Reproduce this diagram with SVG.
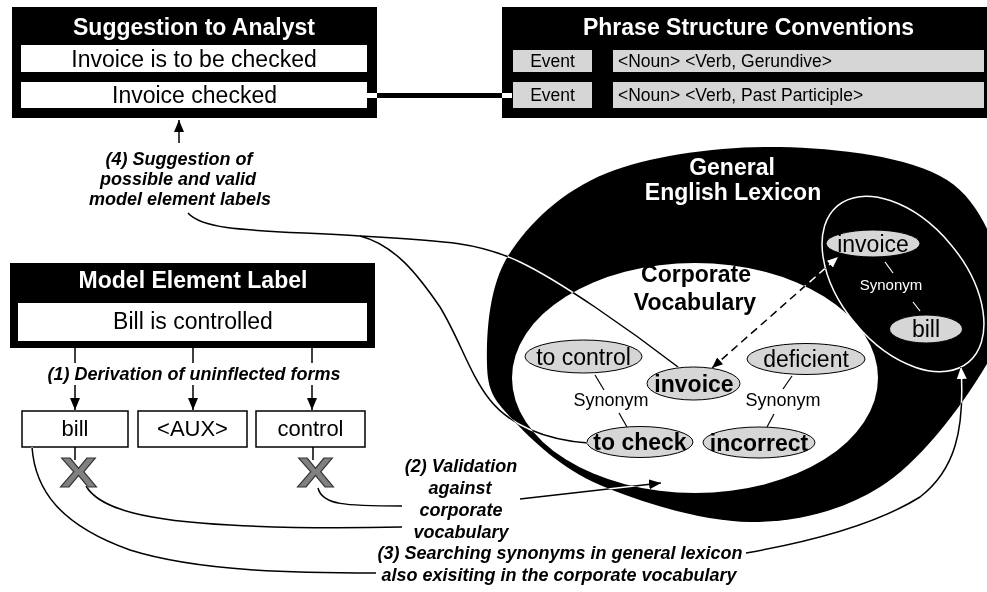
<svg xmlns="http://www.w3.org/2000/svg" width="987" height="592" viewBox="0 0 987 592">
<style>
.t{font-family:"Liberation Sans",Arial,sans-serif;}
.b{font-weight:bold;}
.bi{font-weight:bold;font-style:italic;font-size:18px;}
.c{text-anchor:middle;}
.f23{font-size:23px;}
.f22{font-size:22px;}
.f18{font-size:18px;}
.ev{font-size:17.5px;}
.gray{fill:#d6d6d6;stroke:#000;stroke-width:1;}
.wbox{fill:#fff;}
.xmark{font-family:"Liberation Sans",Arial,sans-serif;font-weight:bold;font-size:42px;fill:#808080;stroke:#333;stroke-width:1;}
</style>
<defs>
<marker id="ah" viewBox="0 0 12 10" refX="12" refY="5" markerWidth="12" markerHeight="10" markerUnits="userSpaceOnUse" orient="auto-start-reverse"><path d="M0,0 L12,5 L0,10 z" fill="#000"/></marker>
<marker id="ahw" viewBox="0 0 12 10" refX="12" refY="5" markerWidth="12" markerHeight="10" markerUnits="userSpaceOnUse" orient="auto-start-reverse"><path d="M0,0 L12,5 L0,10 z" fill="#fff"/></marker>
<marker id="ahws" viewBox="0 0 12 10" refX="12" refY="5" markerWidth="11" markerHeight="9" markerUnits="userSpaceOnUse" orient="auto-start-reverse"><path d="M0,0 L12,5 L0,10 z" fill="#fff"/></marker>
</defs>
<rect x="0" y="0" width="987" height="592" fill="#fff"/>

<g id="general-lexicon">
<path d="M487,365 C486.2,337.7 488,288 508,256 C528,224 561.7,191.2 607,173 C652.3,154.8 723.3,145.8 780,147 C836.7,148.2 909.5,156.2 947,180 C984.5,203.8 1000,256.7 1005,290 C1010,323.3 997.8,347.2 977,380 C956.2,412.8 917.8,463.3 880,487 C842.2,510.7 796.7,522.3 750,522 C703.3,521.7 639.5,502 600,485 C560.5,468 531.8,440 513,420 C494.2,400 487.8,392.3 487,365 Z" fill="#000"/>
<text class="t b c f23" x="732" y="175" fill="#fff">General</text>
<text class="t b c f23" x="733" y="200" fill="#fff">English Lexicon</text>
</g>

<g id="corporate-vocabulary">
<ellipse cx="695" cy="378" rx="183" ry="115" fill="#fff"/>
<text class="t b c f23" x="696" y="282">Corporate</text>
<text class="t b c f23" x="695" y="310">Vocabulary</text>
</g>

<g id="synonym-set">
<ellipse cx="903" cy="284" rx="102" ry="62" transform="rotate(50 903 284)" fill="none" stroke="#fff" stroke-width="1.5"/>
<line x1="885" y1="262" x2="893" y2="273" stroke="#fff" stroke-width="1.2"/>
<line x1="913" y1="302" x2="920" y2="311" stroke="#fff" stroke-width="1.2"/>
<text class="t c" x="891" y="290" font-size="15" fill="#fff">Synonym</text>
</g>
<g id="lex-invoice">
<ellipse class="gray" cx="873" cy="243.5" rx="47" ry="13.5"/>
<text class="t c f23" x="873" y="251.5">invoice</text>
</g>
<g id="lex-bill">
<ellipse class="gray" cx="926" cy="329" rx="36.5" ry="14"/>
<text class="t c f23" x="926" y="337">bill</text>
</g>

<g id="syn-left">
<line x1="595" y1="375" x2="604" y2="390" stroke="#000" stroke-width="1.2"/>
<line x1="619" y1="413" x2="627" y2="427" stroke="#000" stroke-width="1.2"/>
<text class="t c f18" x="611" y="406">Synonym</text>
</g>
<g id="syn-right">
<line x1="792" y1="376" x2="783" y2="389" stroke="#000" stroke-width="1.2"/>
<line x1="774" y1="414" x2="767" y2="427" stroke="#000" stroke-width="1.2"/>
<text class="t c f18" x="783" y="406">Synonym</text>
</g>
<g id="cv-to-control">
<ellipse class="gray" cx="583.5" cy="356.5" rx="58.5" ry="16.5"/>
<text class="t c f23" x="583.5" y="364.5">to control</text>
</g>
<g id="cv-invoice">
<ellipse class="gray" cx="693.5" cy="383.5" rx="46.5" ry="16.5"/>
<text class="t b c f23" x="694" y="391.5">invoice</text>
</g>
<g id="cv-deficient">
<ellipse class="gray" cx="806" cy="359" rx="59" ry="15.5"/>
<text class="t c f23" x="806" y="367">deficient</text>
</g>
<g id="cv-to-check">
<ellipse class="gray" cx="640" cy="442" rx="53" ry="15.5"/>
<text class="t b c f23" x="640" y="450">to check</text>
</g>
<g id="cv-incorrect">
<ellipse class="gray" cx="759" cy="442.5" rx="56" ry="15.5"/>
<text class="t b c f23" x="759" y="450.5">incorrect</text>
</g>

<g id="suggestion-to-analyst">
<rect x="12" y="7" width="365" height="111" fill="#000"/>
<text class="t b c f23" x="194" y="35" fill="#fff">Suggestion to Analyst</text>
<rect class="wbox" x="21" y="45" width="346" height="27"/>
<text class="t c f23" x="194" y="67">Invoice is to be checked</text>
<rect class="wbox" x="21" y="82" width="346" height="26"/>
<text class="t c f23" x="194.5" y="103">Invoice checked</text>
<rect x="367" y="93" width="10" height="5" fill="#fff"/>
</g>

<g id="phrase-structure-conventions">
<rect x="502" y="7" width="490" height="111" fill="#000"/>
<text class="t b c f23" x="748.5" y="35" fill="#fff">Phrase Structure Conventions</text>
<rect x="513" y="50" width="79" height="22" fill="#d6d6d6"/>
<text class="t c ev" x="552.5" y="67">Event</text>
<rect x="613" y="50" width="371" height="22" fill="#d6d6d6"/>
<text class="t ev" x="618" y="67">&lt;Noun&gt; &lt;Verb, Gerundive&gt;</text>
<rect x="513" y="82" width="79" height="26" fill="#d6d6d6"/>
<text class="t c ev" x="552.5" y="101">Event</text>
<rect x="613" y="82" width="371" height="26" fill="#d6d6d6"/>
<text class="t ev" x="618" y="101">&lt;Noun&gt; &lt;Verb, Past Participle&gt;</text>
<rect x="502" y="93" width="10" height="5" fill="#fff"/>
</g>

<g id="model-element-label">
<rect x="10" y="263" width="365" height="85" fill="#000"/>
<text class="t b c f23" x="193" y="288" fill="#fff">Model Element Label</text>
<rect class="wbox" x="18" y="303" width="349" height="38"/>
<text class="t c f23" x="193" y="329">Bill is controlled</text>
</g>

<g id="word-bill">
<rect x="22" y="411" width="106" height="36" fill="#fff" stroke="#000" stroke-width="1.5"/>
<text class="t c f22" x="75" y="436">bill</text>
</g>
<g id="word-aux">
<rect x="138" y="411" width="109" height="36" fill="#fff" stroke="#000" stroke-width="1.5"/>
<text class="t c f22" x="192.5" y="436">&lt;AUX&gt;</text>
</g>
<g id="word-control">
<rect x="256" y="411" width="109" height="36" fill="#fff" stroke="#000" stroke-width="1.5"/>
<text class="t c f22" x="310.5" y="436">control</text>
</g>

<g id="x-bill"><text class="xmark" x="60" y="487" textLength="37" lengthAdjust="spacingAndGlyphs">X</text></g>
<g id="x-control"><text class="xmark" x="297" y="487" textLength="37" lengthAdjust="spacingAndGlyphs">X</text></g>

<g id="label-1"><text class="t bi c" x="194" y="380">(1) Derivation of uninflected forms</text></g>
<g id="label-4">
<text class="t bi c" x="179" y="165">(4) Suggestion of</text>
<text class="t bi c" x="178" y="185">possible and valid</text>
<text class="t bi c" x="180" y="205">model element labels</text>
</g>
<g id="label-2">
<text class="t bi c" x="461" y="472">(2) Validation</text>
<text class="t bi c" x="460" y="494">against</text>
<text class="t bi c" x="461" y="516">corporate</text>
<text class="t bi c" x="461" y="538">vocabulary</text>
</g>
<g id="label-3">
<text class="t bi c" x="560" y="559">(3) Searching synonyms in general lexicon</text>
<text class="t bi c" x="559" y="581">also exisiting in the corporate vocabulary</text>
</g>

<g id="connectors">
<g id="conn-plain" fill="none" stroke="#000" stroke-width="1.5">
<line x1="377" y1="95.5" x2="502" y2="95.5" stroke-width="5"/>
<path d="M75,348 V363 M193,348 V363 M312,348 V363"/>
<path d="M75,385 V410" marker-end="url(#ah)"/>
<path d="M193,385 V410" marker-end="url(#ah)"/>
<path d="M312,385 V410" marker-end="url(#ah)"/>
<path d="M179,143 V120" marker-end="url(#ah)"/>
<path d="M75,447 V460 M313,447 V460"/>
</g>
<g id="conn-inverting" fill="none" stroke="#fff" stroke-width="1.5" style="mix-blend-mode:difference">
<path d="M188,213 C205,232 260,230 360,236 C450,241 480,243 520,262 C560,281 630,330 678,367"/>
<path d="M360,236 C395,245 418,275 440,307 C460,340 470,375 490,400 C510,425 545,440 588,443"/>
<path d="M318,488 C322,505 345,506 402,506"/>
<path d="M86,486 C100,510 150,521 230,525 C300,529 360,528 402,527"/>
<path d="M520,499 L661,483" marker-end="url(#ahw)"/>
<path d="M32,447 C35,490 60,525 130,550 C200,572 300,573 376,573"/>
<path d="M746,553 C820,540 880,522 920,497 C955,470 965,430 961,367" marker-end="url(#ahw)"/>
<path d="M712,368 L838,257" stroke-dasharray="8,5" marker-start="url(#ahws)" marker-end="url(#ahws)"/>
</g>
</g>
</svg>
